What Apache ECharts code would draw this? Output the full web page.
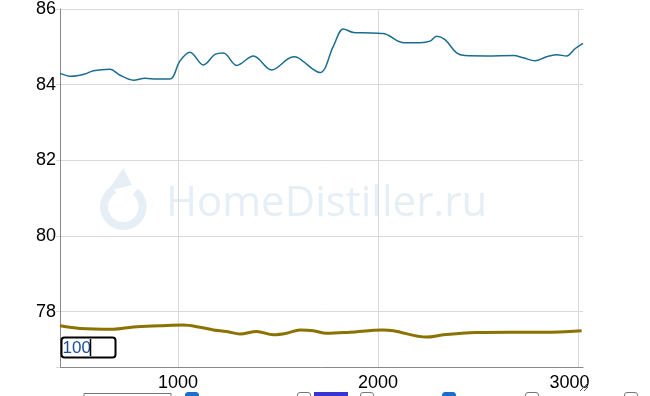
<!DOCTYPE html>
<html>
<head>
<meta charset="utf-8">
<script src="https://cdn.jsdelivr.net/npm/echarts@6/dist/echarts.min.js"></script>
<style>
html,body{margin:0;padding:0;background:#fff;}
#chart{width:650px;height:396px;}
</style>
</head>
<body>
<div id="chart"></div>
<script>
// Blue series (upper line)
var blueX = [410, 468, 535, 577, 660, 710, 777, 835, 893, 960, 1010, 1060, 1127, 1185, 1227, 1293, 1377, 1468, 1577, 1602, 1710, 1777, 1827, 1877, 1927, 2027, 2127, 2210, 2260, 2293, 2335, 2393, 2435, 2543, 2677, 2727, 2785, 2843, 2893, 2943, 2985, 3025];
var blueY = [84.30, 84.22, 84.28, 84.37, 84.41, 84.25, 84.12, 84.17, 84.15, 84.15, 84.63, 84.86, 84.52, 84.80, 84.84, 84.51, 84.76, 84.39, 84.74, 84.71, 84.32, 85.02, 85.47, 85.38, 85.37, 85.35, 85.11, 85.11, 85.15, 85.28, 85.19, 84.84, 84.77, 84.76, 84.77, 84.71, 84.63, 84.74, 84.79, 84.76, 84.95, 85.09];
// Olive series (lower line)
var oliveX = [410, 510, 677, 777, 910, 1027, 1110, 1177, 1243, 1310, 1393, 1477, 1543, 1610, 1677, 1743, 1860, 2023, 2077, 2243, 2327, 2493, 2660, 2827, 3018];
var oliveY = [77.63, 77.56, 77.54, 77.60, 77.63, 77.65, 77.59, 77.52, 77.48, 77.41, 77.48, 77.39, 77.43, 77.52, 77.50, 77.43, 77.46, 77.52, 77.50, 77.33, 77.39, 77.45, 77.46, 77.46, 77.50];
var xTicks = [1000, 2000, 3000];
var yTicks = [78, 80, 82, 84, 86];
var inputValue = '100';
var watermarkText = 'HomeDistiller.ru';

function pairs(xs, ys) { return xs.map(function (x, i) { return [x, ys[i]]; }); }

var chart = echarts.init(document.getElementById('chart'), null, {renderer: 'canvas'});
var grey = '#767676';
var boxes = [];
var greyBoxesX = [297.5, 360.5, 525.5, 624.5];
var blueBoxesX = [185.5, 442.5];
greyBoxesX.forEach(function (x) {
  boxes.push({type: 'rect', shape: {x: x, y: 392.5, width: 13, height: 13, r: 2.5}, style: {fill: '#fff', stroke: grey, lineWidth: 1}, z: 10});
});
blueBoxesX.forEach(function (x) {
  boxes.push({type: 'rect', shape: {x: x, y: 392.5, width: 13, height: 13, r: 2.5}, style: {fill: '#1a6dc8', stroke: '#1a6dc8', lineWidth: 1}, z: 10});
});

chart.setOption({
  animation: false,
  grid: {left: 60, right: 67, top: 4, bottom: 29, containLabel: false},
  xAxis: {
    type: 'value', min: 410, max: 3025, minInterval: 1000, maxInterval: 1000,
    axisLine: {show: true, lineStyle: {color: '#888', width: 1}},
    axisTick: {show: false},
    axisLabel: {
      margin: 7, color: '#000', fontSize: 18, fontFamily: 'Liberation Sans, Arial, sans-serif',
      formatter: function (v) {
        if (xTicks.indexOf(v) < 0) return '';
        if (v === xTicks[xTicks.length - 1]) return '{r|' + v + '}';
        return String(v);
      },
      rich: {r: {fontSize: 18, color: '#000', fontFamily: 'Liberation Sans, Arial, sans-serif', padding: [0, 17, 0, 0]}}
    },
    splitLine: {show: true, showMinLine: false, showMaxLine: false, lineStyle: {color: '#d9d9d9', width: 1}}
  },
  yAxis: {
    type: 'value', min: 76.54, max: 86, minInterval: 2, maxInterval: 2,
    axisLine: {show: true, lineStyle: {color: '#888', width: 1}},
    axisTick: {show: true, length: 4, lineStyle: {color: '#d9d9d9'}},
    axisLabel: {
      margin: 4, color: '#000', fontSize: 18, fontFamily: 'Liberation Sans, Arial, sans-serif',
      formatter: function (v) { return yTicks.indexOf(v) >= 0 ? String(v) : ''; }
    },
    splitLine: {show: true, showMinLine: false, lineStyle: {color: '#d9d9d9', width: 1}}
  },
  graphic: [
    {type: 'arc', shape: {cx: 123.3, cy: 206.7, r: 19.3, startAngle: -0.9, endAngle: -2.05 + Math.PI * 2, clockwise: true},
      style: {stroke: '#e6eef6', lineWidth: 8, fill: null}, z: -1},
    {type: 'polygon', shape: {points: [[123.3, 168], [103.5, 197], [112, 190], [132, 185]]},
      style: {fill: '#e6eef6'}, z: -1},
    {type: 'text', x: 166, y: 204, style: {text: watermarkText, fill: '#e6eef6', font: '42px "Open Sans", sans-serif', textVerticalAlign: 'middle'}, z: -1},
    {type: 'rect', shape: {x: 61.5, y: 337.5, width: 54, height: 20, r: 3}, style: {fill: '#fff', stroke: '#000', lineWidth: 2}, z: 10},
    {type: 'text', x: 62.5, y: 348, style: {text: inputValue, fill: '#1b4b9c', font: '17px "Liberation Sans", Arial, sans-serif', textVerticalAlign: 'middle'}, z: 11},
    {type: 'line', shape: {x1: 90.5, y1: 339, x2: 90.5, y2: 356}, style: {stroke: '#000', lineWidth: 1.5}, z: 11},
    {type: 'rect', shape: {x: 84, y: 393.5, width: 87, height: 20}, style: {fill: '#fff', stroke: grey, lineWidth: 1}, z: 10},
    {type: 'rect', shape: {x: 314, y: 392, width: 34, height: 10}, style: {fill: '#3535d3'}, z: 10},
    {type: 'line', shape: {x1: 580, y1: 391, x2: 588, y2: 383}, style: {stroke: '#555', lineWidth: 1}, z: 10},
    {type: 'line', shape: {x1: 584, y1: 391, x2: 588, y2: 387}, style: {stroke: '#555', lineWidth: 1}, z: 10}
  ].concat(boxes),
  series: [
    {type: 'line', data: pairs(blueX, blueY), showSymbol: false, smooth: 0.35,
      lineStyle: {color: '#1a6d8f', width: 1.5}, z: 3},
    {type: 'line', data: pairs(oliveX, oliveY), showSymbol: false, smooth: 0.35,
      lineStyle: {color: '#8a7300', width: 3}, z: 3}
  ]
});
</script>
</body>
</html>
